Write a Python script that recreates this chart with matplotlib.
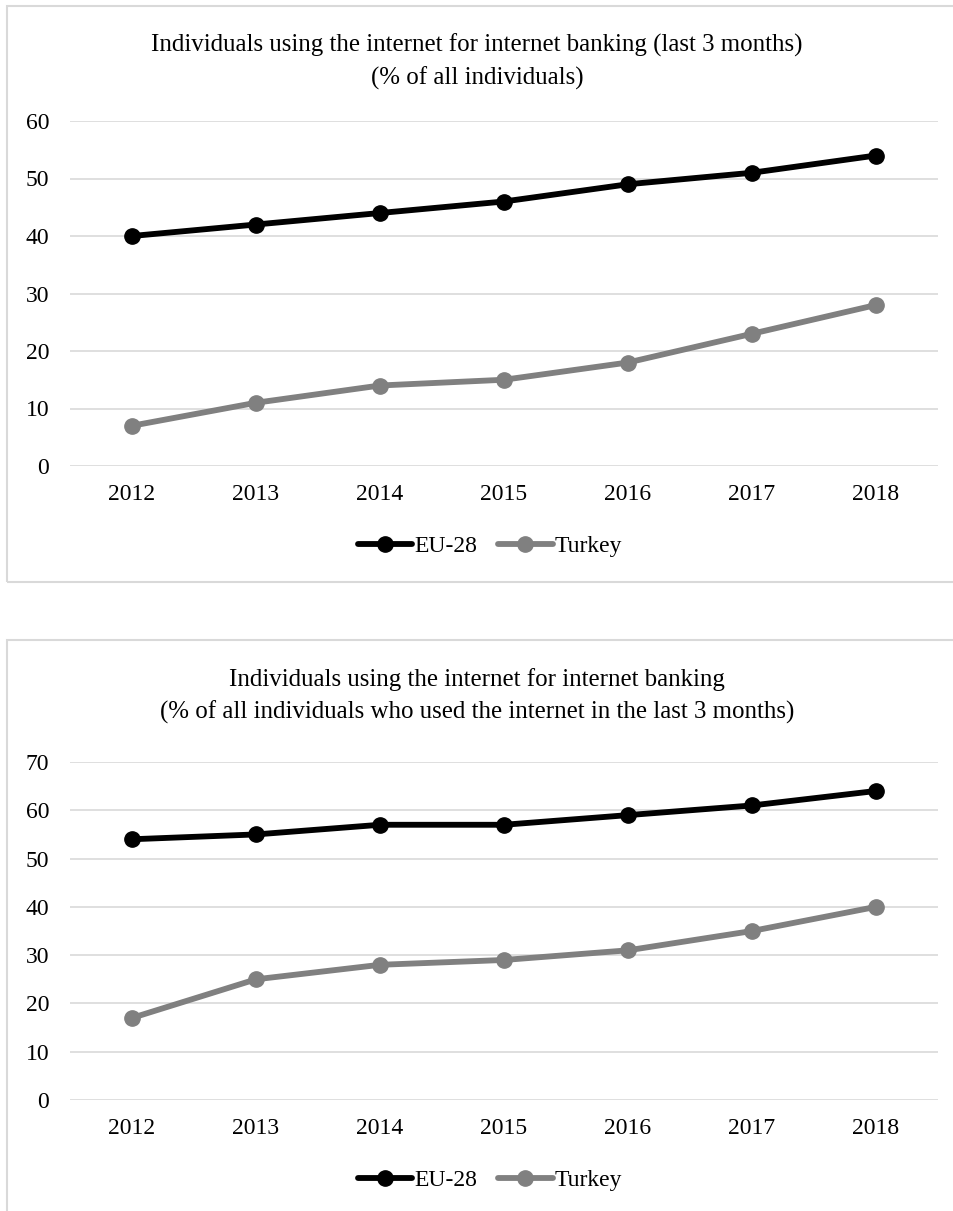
import matplotlib
matplotlib.use("Agg")
import matplotlib.pyplot as plt
from matplotlib.patches import Rectangle

years = ["2012", "2013", "2014", "2015", "2016", "2017", "2018"]
eu_top = [40, 42, 44, 46, 49, 51, 54]
tr_top = [7, 11, 14, 15, 18, 23, 28]
eu_bot = [54, 55, 57, 57, 59, 61, 64]
tr_bot = [17, 25, 28, 29, 31, 35, 40]
title_top = ["Individuals using the internet for internet banking (last 3 months)",
             "(% of all individuals)"]
title_bot = ["Individuals using the internet for internet banking",
             "(% of all individuals who used the internet in the last 3 months)"]
series_names = ["EU-28", "Turkey"]

plt.rcParams['font.family'] = ['Liberation Serif', 'DejaVu Serif']

W, H = 954, 1211
fig = plt.figure(figsize=(W / 100, H / 100), dpi=100)

def fx(px):
    return px / W

def fy(py):
    return 1 - py / H

# panel borders
for (x0, y0, x1, y1) in [(7, 6, 1000, 582), (7, 640, 1000, 1300)]:
    fig.patches.append(Rectangle((fx(x0), fy(y1)), fx(x1 - x0), (y1 - y0) / H,
                                 transform=fig.transFigure, fill=False,
                                 edgecolor="#d9d9d9", linewidth=1.5))

def panel(ytop_px, ybot_px, ymax, eu, tr, titles, t1y, t2y, legy):
    ax = fig.add_axes([fx(70), fy(ybot_px), fx(938 - 70), (ybot_px - ytop_px) / H])
    x = list(range(len(years)))
    ax.plot(x, eu, color="black", lw=4.2, marker="o", ms=11, label=series_names[0],
            solid_capstyle="round", zorder=3)
    ax.plot(x, tr, color="#808080", lw=4.2, marker="o", ms=11, label=series_names[1],
            solid_capstyle="round", zorder=3)
    ax.set_xlim(-0.5, len(years) - 0.5)
    ax.set_ylim(0, ymax)
    ax.set_yticks(range(0, ymax + 1, 10))
    ax.set_xticks(x)
    ax.set_xticklabels(years)
    for s in ax.spines.values():
        s.set_visible(False)
    ax.grid(axis="y", color="#d9d9d9", lw=1.2)
    ax.set_axisbelow(True)
    ax.tick_params(axis="both", length=0, labelsize=17)
    ax.tick_params(axis="y", pad=15)
    ax.tick_params(axis="x", pad=13)
    fig.text(fx(477), fy(t1y), titles[0], ha="center", va="center", fontsize=17.9)
    fig.text(fx(477), fy(t2y), titles[1], ha="center", va="center", fontsize=17.9)
    fig.legend(handles=ax.get_lines(), labels=series_names, loc="center",
               bbox_to_anchor=(fx(490), fy(legy)), ncol=2, frameon=False,
               fontsize=17, handlelength=2.3, handletextpad=0.1, columnspacing=0.9)
    return ax

panel(121, 466, 60, eu_top, tr_top, title_top, 45, 78, 546)
panel(762, 1100, 70, eu_bot, tr_bot, title_bot, 680, 712, 1180)

fig.savefig("out.png", dpi=100)
